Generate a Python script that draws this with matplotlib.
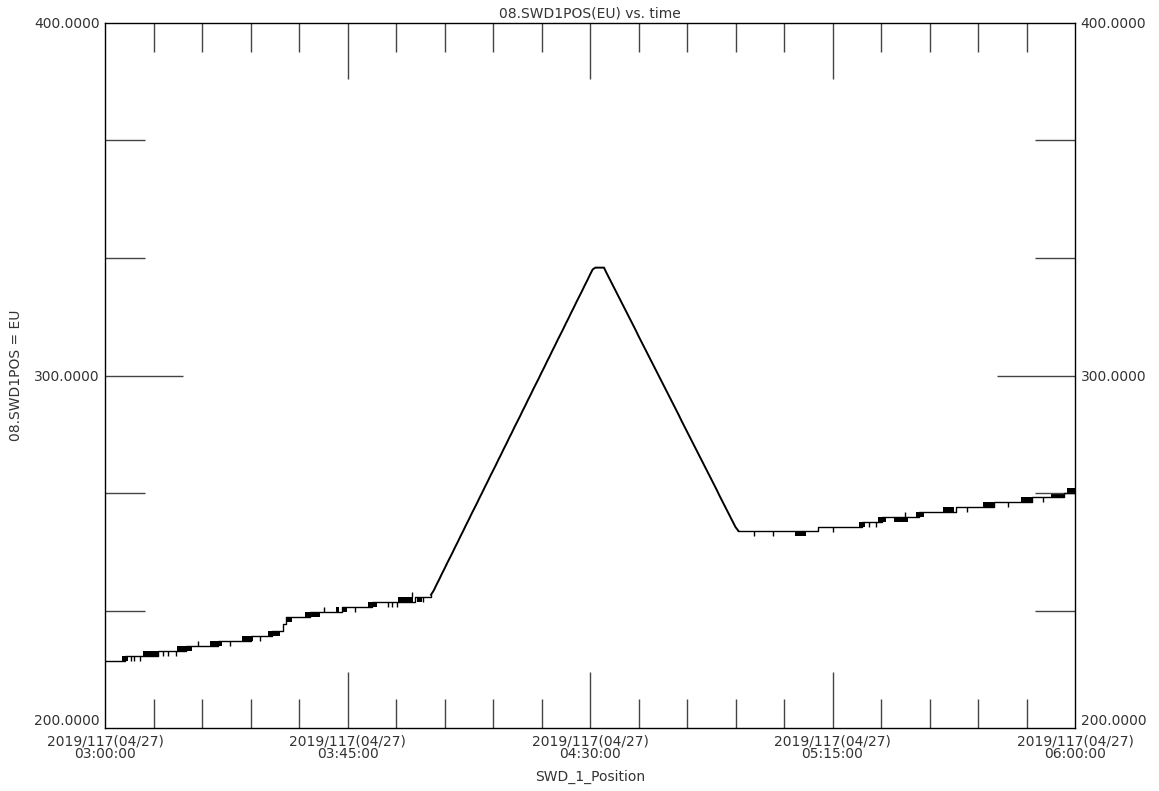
import matplotlib
matplotlib.use("Agg")
import matplotlib.pyplot as plt
from matplotlib.ticker import FixedLocator, FixedFormatter

# time axis: minutes after 2019/117 03:00:00
x_major = [0, 45, 90, 135, 180]
x_minor = [9, 18, 27, 36, 54, 63, 72, 81, 99, 108, 117, 126, 144, 153, 162, 171]
x_tick_labels = ["2019/117(04/27)\n03:00:00", "2019/117(04/27)\n03:45:00",
                 "2019/117(04/27)\n04:30:00", "2019/117(04/27)\n05:15:00",
                 "2019/117(04/27)\n06:00:00"]
y_major = [200, 300, 400]
y_minor = [233.33, 266.67, 333.33, 366.67]
y_tick_labels = ["200.0000", "300.0000", "400.0000"]

# slow drift before the move (level changes, drawn as steps)
flat_left_t = [0, 3.7, 9.8, 15.0, 21.0, 27.0, 31.0, 33.0, 33.6, 38.0, 44.0,
               49.5, 57.5, 60.5]
flat_left_v = [219.0, 220.4, 221.8, 223.3, 224.7, 226.1, 227.5, 229.5, 231.5,
               232.9, 234.3, 235.7, 237.2, 237.8]

# the move up, the top and the move back down
ramp_t = [60.5, 61.0, 61.5, 62.0, 62.5, 63.0, 63.5, 64.0, 64.5, 65.0,
          65.5, 66.0, 66.5, 67.0, 67.5, 68.0, 68.5, 69.0, 69.5, 70.0,
          70.5, 71.0, 71.5, 72.0, 72.5, 73.0, 73.5, 74.0, 74.5, 75.0,
          75.5, 76.0, 76.5, 77.0, 77.5, 78.0, 78.5, 79.0, 79.5, 80.0,
          80.5, 81.0, 81.5, 82.0, 82.5, 83.0, 83.5, 84.0, 84.5, 85.0,
          85.5, 86.0, 86.5, 87.0, 87.5, 88.0, 88.5, 89.0, 89.5, 90.0,
          90.5, 91.0, 92.6,
          93.0, 93.5, 94.0, 94.5, 95.0, 95.5, 96.0, 96.5, 97.0, 97.5,
          98.0, 98.5, 99.0, 99.5, 100.0, 100.5, 101.0, 101.5, 102.0,
          102.5, 103.0, 103.5, 104.0, 104.5, 105.0, 105.5, 106.0, 106.5,
          107.0, 107.5, 108.0, 108.5, 109.0, 109.5, 110.0, 110.5, 111.0,
          111.5, 112.0, 112.5, 113.0, 113.5, 114.0, 114.5, 115.0, 115.5,
          116.0, 116.5, 117.0, 117.5]
ramp_v = [237.8, 239.0, 240.6, 242.1, 243.7, 245.2, 246.8, 248.3, 249.8,
          251.4, 252.9, 254.5, 256.0, 257.6, 259.1, 260.7, 262.2, 263.7,
          265.3, 266.8, 268.4, 269.9, 271.5, 273.0, 274.5, 276.1, 277.6,
          279.2, 280.7, 282.3, 283.8, 285.4, 286.9, 288.4, 290.0, 291.5,
          293.1, 294.6, 296.2, 297.7, 299.2, 300.8, 302.3, 303.9, 305.4,
          307.0, 308.5, 310.1, 311.6, 313.1, 314.7, 316.2, 317.8, 319.3,
          320.9, 322.4, 323.9, 325.5, 327.0, 328.6, 330.1, 330.6, 330.6,
          329.3, 327.8, 326.3, 324.8, 323.3, 321.8, 320.3, 318.8, 317.3,
          315.8, 314.3, 312.8, 311.2, 309.7, 308.2, 306.7, 305.2, 303.7,
          302.2, 300.7, 299.2, 297.7, 296.2, 294.7, 293.2, 291.7, 290.2,
          288.7, 287.1, 285.6, 284.1, 282.6, 281.1, 279.6, 278.1, 276.6,
          275.1, 273.6, 272.1, 270.6, 269.1, 267.6, 266.0, 264.5, 263.0,
          261.5, 260.0, 258.5, 257.0, 256.0]

# slow drift after the move
flat_right_t = [117.5, 132.3, 140.5, 144.2, 151.0, 158.0, 165.0, 172.0,
                178.0, 180.0]
flat_right_v = [256.0, 256.9, 258.3, 259.8, 261.2, 262.6, 264.0, 265.4,
                266.8, 266.8]

# rapid toggling between two adjacent levels (shows as black blocks)
chatter_t0 = [3.15, 7.05, 13.36, 19.48, 25.42, 30.25, 33.77, 37.11, 42.9,
              44.2, 48.8, 54.37, 57.9,
              128.0, 140.0, 143.5, 146.5, 150.5, 155.5, 163.0, 170.0, 175.5,
              178.5]
chatter_t1 = [4.27, 9.83, 16.14, 21.71, 27.46, 32.47, 34.7, 39.9, 43.4,
              44.9, 50.47, 57.15, 58.8,
              130.0, 141.0, 145.0, 149.0, 152.0, 157.5, 165.0, 172.0, 178.0,
              180.0]
chatter_lo = [219.0, 220.4, 221.8, 223.3, 224.7, 226.1, 230.1, 231.5, 232.9,
              232.9, 234.3, 235.7, 235.7,
              254.6, 256.9, 258.3, 258.3, 259.8, 261.2, 262.6, 264.0, 265.4,
              266.8]
chatter_hi = [220.4, 221.8, 223.3, 224.7, 226.1, 227.5, 231.5, 232.9, 234.3,
              234.3, 235.7, 237.2, 237.2,
              256.0, 258.3, 259.8, 259.8, 261.2, 262.6, 264.0, 265.4, 266.8,
              268.2]

# single-sample glitches
spike_t = [4.8, 5.4, 6.5, 10.8, 11.7, 13.2, 17.3, 23.2, 28.8, 40.6, 46.4,
           52.5, 53.3, 54.2, 57.0, 59.0,
           120.5, 124.0, 135.0, 141.8, 143.0, 148.5, 160.0, 167.5, 174.0]
spike_lo = [219.0, 219.0, 219.0, 220.4, 220.4, 220.4, 223.3, 223.3, 224.7,
            232.9, 232.9, 234.3, 234.3, 234.3, 237.2, 235.7,
            254.6, 254.6, 255.5, 256.9, 256.9, 259.8, 261.2, 262.6, 264.0]
spike_hi = [220.4, 220.4, 220.4, 221.8, 221.8, 221.8, 224.7, 224.7, 226.1,
            234.3, 234.3, 235.7, 235.7, 235.7, 238.6, 237.2,
            256.0, 256.0, 256.9, 258.3, 258.3, 261.2, 262.6, 264.0, 265.4]


def main():
    plt.rcParams['font.family'] = ['DejaVu Sans']
    txt_color = "#333333"

    fig = plt.figure(figsize=(11.59, 7.91), dpi=100)
    ax = fig.add_axes([105 / 1159, 63 / 791, 970 / 1159, 705 / 791])

    ax.plot(flat_left_t, flat_left_v, color="black", linewidth=1.0,
            drawstyle="steps-post")
    ax.plot(ramp_t, ramp_v, color="black", linewidth=1.4)
    ax.plot(flat_right_t, flat_right_v, color="black", linewidth=1.0,
            drawstyle="steps-post")

    for t0, t1, lo, hi in zip(chatter_t0, chatter_t1, chatter_lo, chatter_hi):
        ax.fill_between([t0, t1], lo, hi, color="black", linewidth=0)
    ax.vlines(spike_t, spike_lo, spike_hi, color="black", linewidth=1.0)

    ax.set_xlim(0, 180)
    ax.set_ylim(200, 400)

    ax.xaxis.set_major_locator(FixedLocator(x_major))
    ax.xaxis.set_minor_locator(FixedLocator(x_minor))
    ax.xaxis.set_major_formatter(FixedFormatter(x_tick_labels))
    ax.yaxis.set_major_locator(FixedLocator(y_major))
    ax.yaxis.set_minor_locator(FixedLocator(y_minor))
    ax.yaxis.set_major_formatter(FixedFormatter(y_tick_labels))

    ax.tick_params(which="both", direction="in", top=True, right=True,
                   labelright=True, color="#444444", width=1.0,
                   labelsize=10, labelcolor=txt_color)
    ax.xaxis.set_tick_params(which="major", length=40, pad=5)
    ax.xaxis.set_tick_params(which="minor", length=21)
    ax.yaxis.set_tick_params(which="major", length=56, pad=4)
    ax.yaxis.set_tick_params(which="minor", length=29)

    for lab in ax.get_xticklabels():
        lab.set_linespacing(0.85)

    # ticks that sit on the frame itself are not drawn
    for tk, loc in zip(ax.xaxis.get_major_ticks(), x_major):
        if loc in (x_major[0], x_major[-1]):
            tk.tick1line.set_visible(False)
            tk.tick2line.set_visible(False)
    for tk, loc in zip(ax.yaxis.get_major_ticks(), y_major):
        if loc in (y_major[0], y_major[-1]):
            tk.tick1line.set_visible(False)
            tk.tick2line.set_visible(False)
        if loc == y_major[0]:
            tk.label1.set_va("bottom")
            tk.label2.set_va("bottom")

    for s in ax.spines.values():
        s.set_color("black")
        s.set_linewidth(1.0)

    ax.set_title("08.SWD1POS(EU) vs. time", fontsize=10, color=txt_color,
                 pad=4)
    ax.set_xlabel("SWD_1_Position", fontsize=10, color=txt_color, labelpad=6)
    ax.set_ylabel("08.SWD1POS = EU", fontsize=10, color=txt_color,
                  labelpad=8)

    fig.savefig("out.png", dpi=100)


if __name__ == "__main__":
    main()
